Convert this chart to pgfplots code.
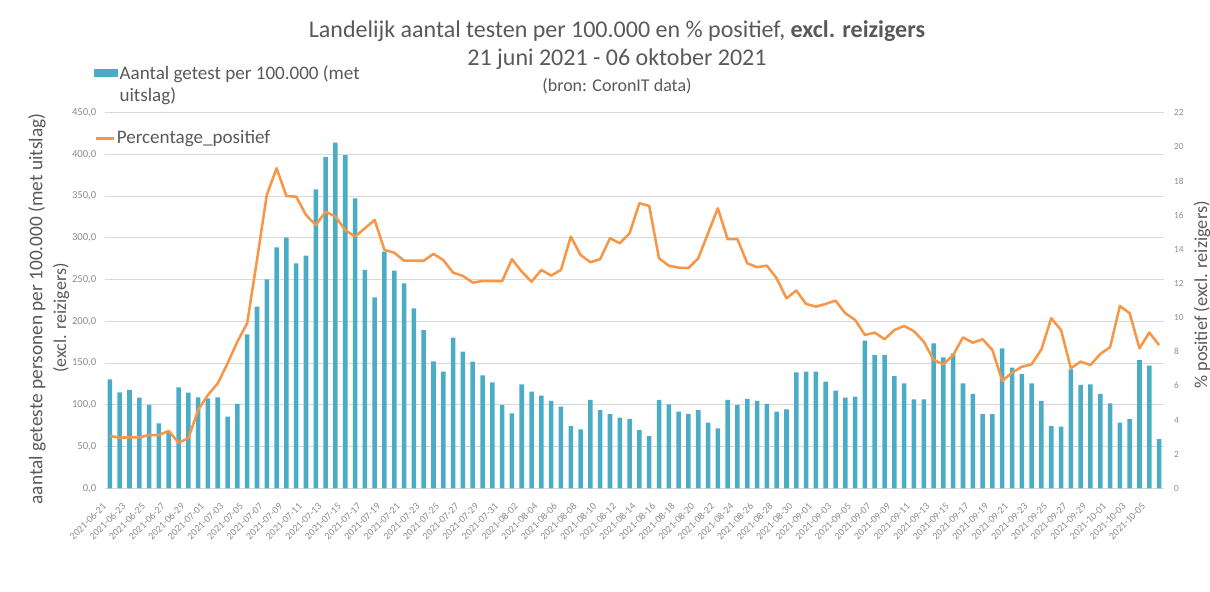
\documentclass[border=0pt]{standalone}
\usepackage{fontspec}
\setmainfont{Carlito}
\usepackage{pgfplots}
\usepackage{pgfplotstable}
\pgfplotsset{compat=1.18}
\definecolor{barblue}{HTML}{4BACC6}
\definecolor{lineorange}{HTML}{F79646}
\definecolor{gridgray}{HTML}{D9D9D9}
\definecolor{labelgray}{HTML}{595959}
\definecolor{tickgray}{HTML}{8C8C8C}

% dag (0 = 2021-06-21), aantal getest per 100.000, % positief
\pgfplotstableread{
x tests pos
0 130.6 3.06
1 115.0 2.97
2 117.8 2.98
3 108.6 2.98
4 99.8 3.12
5 77.9 3.12
6 67.0 3.36
7 121.0 2.67
8 114.6 2.93
9 109.0 4.59
10 107.8 5.47
11 109.0 6.15
12 85.8 7.32
13 101.0 8.59
14 184.5 9.67
15 217.6 13.37
16 250.4 17.18
17 288.7 18.75
18 300.3 17.12
19 269.6 17.08
20 278.7 16.01
21 358.2 15.42
22 397.0 16.20
23 414.0 15.91
24 399.3 15.13
25 347.4 14.74
26 261.7 15.23
27 228.8 15.72
28 283.5 13.96
29 260.7 13.80
30 245.6 13.33
31 215.6 13.33
32 189.6 13.33
33 152.0 13.73
34 139.7 13.37
35 180.4 12.63
36 163.7 12.44
37 151.7 12.05
38 135.4 12.14
39 127.0 12.14
40 99.8 12.14
41 89.8 13.42
42 124.6 12.69
43 115.7 12.10
44 111.0 12.79
45 104.6 12.46
46 97.8 12.79
47 74.6 14.74
48 70.7 13.67
49 105.8 13.24
50 93.8 13.42
51 89.0 14.65
52 84.6 14.35
53 83.0 14.94
54 69.8 16.70
55 62.6 16.54
56 105.8 13.47
57 100.6 13.04
58 91.8 12.92
59 89.0 12.90
60 93.8 13.47
61 78.6 14.94
62 71.9 16.40
63 105.8 14.59
64 99.8 14.59
65 107.0 13.18
66 104.6 12.95
67 101.0 13.04
68 91.8 12.30
69 94.6 11.13
70 139.0 11.58
71 139.7 10.80
72 139.7 10.64
73 127.7 10.80
74 117.0 10.99
75 108.6 10.25
76 109.8 9.86
77 176.8 8.98
78 159.7 9.12
79 159.7 8.73
80 134.5 9.27
81 125.8 9.51
82 106.6 9.20
83 106.6 8.59
84 173.7 7.52
85 156.9 7.26
86 161.7 7.81
87 125.8 8.84
88 113.0 8.53
89 89.0 8.73
90 89.0 8.10
91 167.7 6.29
92 144.5 6.77
93 136.9 7.12
94 125.8 7.26
95 104.6 8.14
96 74.6 9.96
97 74.0 9.27
98 142.6 7.03
99 123.8 7.42
100 124.6 7.22
101 113.0 7.87
102 101.8 8.26
103 78.6 10.68
104 83.0 10.25
105 153.7 8.20
106 146.9 9.12
107 59.0 8.39
}\data

\begin{document}
\begin{tikzpicture}[x=0.75pt,y=0.75pt]
\path[use as bounding box] (0,0) rectangle (1210,592);

\begin{axis}[
  at={(78.75pt,77.775pt)}, anchor=south west,
  scale only axis, width=794.25pt, height=281.7pt,
  xmin=-0.5, xmax=107.5, ymin=0, ymax=450,
  ytick={0,50,...,450},
  /pgf/number format/assume math mode=true,
  y tick label style={font=\fontsize{8}{9}\selectfont, text=tickgray, xshift=-3pt,
    /pgf/number format/fixed, /pgf/number format/fixed zerofill,
    /pgf/number format/precision=1, /pgf/number format/use comma},
  xtick={0,2,...,106},
  xticklabels={2021-06-21,2021-06-23,2021-06-25,2021-06-27,2021-06-29,
    2021-07-01,2021-07-03,2021-07-05,2021-07-07,2021-07-09,2021-07-11,2021-07-13,2021-07-15,
    2021-07-17,2021-07-19,2021-07-21,2021-07-23,2021-07-25,2021-07-27,2021-07-29,2021-07-31,
    2021-08-02,2021-08-04,2021-08-06,2021-08-08,2021-08-10,2021-08-12,2021-08-14,2021-08-16,
    2021-08-18,2021-08-20,2021-08-22,2021-08-24,2021-08-26,2021-08-28,2021-08-30,
    2021-09-01,2021-09-03,2021-09-05,2021-09-07,2021-09-09,2021-09-11,2021-09-13,2021-09-15,
    2021-09-17,2021-09-19,2021-09-21,2021-09-23,2021-09-25,2021-09-27,2021-09-29,
    2021-10-01,2021-10-03,2021-10-05},
  x tick label style={font=\fontsize{7.5}{8}\selectfont, text=tickgray,
    xshift=-6pt, yshift=-9pt, rotate=45, anchor=north east, inner sep=1pt},
  axis x line*=bottom, axis y line*=left,
  x axis line style={gridgray, -}, y axis line style={draw=none},
  tick style={draw=none},
  ymajorgrids, grid style={gridgray, line width=0.6pt},
  legend style={at={(-0.0104,1.1336)}, anchor=north west, draw=none, fill=none,
    font=\fontsize{14.3}{16.5}\selectfont, text=labelgray, inner sep=0pt,
    nodes={inner sep=1pt}},
  legend cell align=left,
]
\addplot[ybar, bar width=3.4pt, fill=barblue, draw=none,
  legend image code/.code={\fill[barblue] (0pt,-3.2pt) rectangle (18pt,3.2pt);}]
  table[x=x, y=tests] {\data};
\addlegendentry{\begin{tabular}[t]{@{}l@{}}Aantal getest per 100.000 (met\\uitslag)\end{tabular}}
\end{axis}

\begin{axis}[
  at={(78.75pt,77.775pt)}, anchor=south west,
  scale only axis, width=794.25pt, height=281.7pt,
  xmin=-0.5, xmax=107.5, ymin=0, ymax=22,
  ytick={0,2,...,22},
  axis y line*=right, axis x line=none,
  y axis line style={draw=none}, tick style={draw=none},
  /pgf/number format/assume math mode=true,
  y tick label style={font=\fontsize{7}{8}\selectfont, text=tickgray, xshift=4pt},
  legend style={at={(-0.0104,0.9318)}, anchor=west, draw=none, fill=none,
    font=\fontsize{14.3}{16.5}\selectfont, text=labelgray, inner sep=0pt,
    nodes={inner sep=1pt}},
  legend cell align=left,
]
\addplot[lineorange, line width=1.9pt, line join=round,
  legend image code/.code={\draw[lineorange, line width=1.9pt] (0pt,0pt) -- (14pt,0pt);}]
  table[x=x, y=pos] {\data};
\addlegendentry{Percentage\_positief}
\end{axis}

% titels
\node[text=labelgray, font=\fontsize{18}{21}\selectfont] at (617,592-31)
  {Landelijk aantal testen per 100.000 en \% positief, \textbf{excl. reizigers}};
\node[text=labelgray, font=\fontsize{18}{21}\selectfont] at (617,592-59)
  {21 juni 2021 - 06 oktober 2021};
\node[text=labelgray, font=\fontsize{13.5}{16}\selectfont] at (617,592-86)
  {(bron: CoronIT data)};

% astitels
\node[text=labelgray, font=\fontsize{14.5}{17}\selectfont, rotate=90] at (37,592-309)
  {aantal geteste personen per 100.000 (met uitslag)};
\node[text=labelgray, font=\fontsize{13.5}{16}\selectfont, rotate=90] at (61,592-318)
  {(excl. reizigers)};
\node[text=labelgray, font=\fontsize{13.7}{16}\selectfont, rotate=90] at (1202,592-295)
  {\% positief (excl. reizigers)};
\end{tikzpicture}
\end{document}
